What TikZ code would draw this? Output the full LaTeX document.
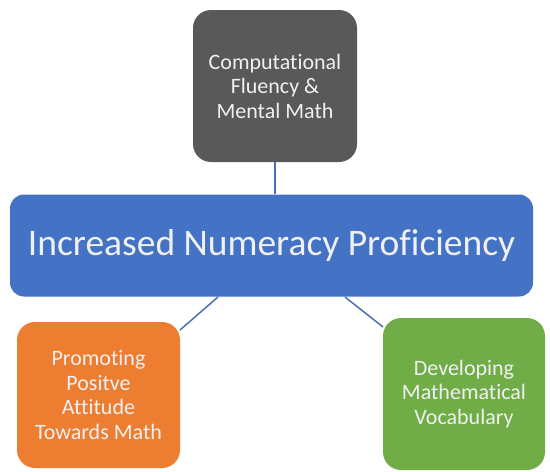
\documentclass[tikz,border=0pt]{standalone}
\usepackage{fontspec}
\setmainfont[Ligatures=NoCommon]{Carlito}
\definecolor{boxgray}{HTML}{595959}
\definecolor{boxblue}{HTML}{4472C4}
\definecolor{boxorange}{HTML}{ED7D31}
\definecolor{boxgreen}{HTML}{70AD47}
\definecolor{linkblue}{HTML}{4A6FB5}
\definecolor{cardtext}{HTML}{F0F0F0}
\begin{document}
\begin{tikzpicture}[x=1pt,y=-1pt,
  card/.style={rectangle, rounded corners=18pt, draw=none, text=cardtext,
    align=center, inner sep=0pt, font=\fontsize{22}{24.5}\selectfont},
  hub/.style={rectangle, rounded corners=14pt, draw=none, fill=boxblue, text=cardtext,
    inner sep=0pt, font=\fontsize{37.5}{42}\selectfont},
  link/.style={draw=linkblue, line width=1.5pt}]
\useasboundingbox (0,0) rectangle (550,472);
\node[card, fill=boxgray, minimum width=164pt, minimum height=152pt] (calc) at (275,86)
  {Computational\\Fluency \&\\Mental Math};
\node[hub, minimum width=523pt, minimum height=102pt] (core) at (271.5,245.5)
  {Increased Numeracy Proficiency};
\node[card, fill=boxorange, minimum width=163pt, minimum height=146pt] (attit) at (98.5,395)
  {Promoting\\Positve\\Attitude\\Towards Math};
\node[card, fill=boxgreen, minimum width=162pt, minimum height=152pt] (vocab) at (464,394)
  {Developing\\Mathematical\\Vocabulary};
\draw[link] (calc.south) -- (core.north -| calc.south);
\coordinate (a1) at (218,297);
\coordinate (a2) at (180,330);
\coordinate (v1) at (345,297);
\coordinate (v2) at (383,327);
\draw[link] (a1) -- (a2);
\draw[link] (v1) -- (v2);
\end{tikzpicture}
\end{document}
